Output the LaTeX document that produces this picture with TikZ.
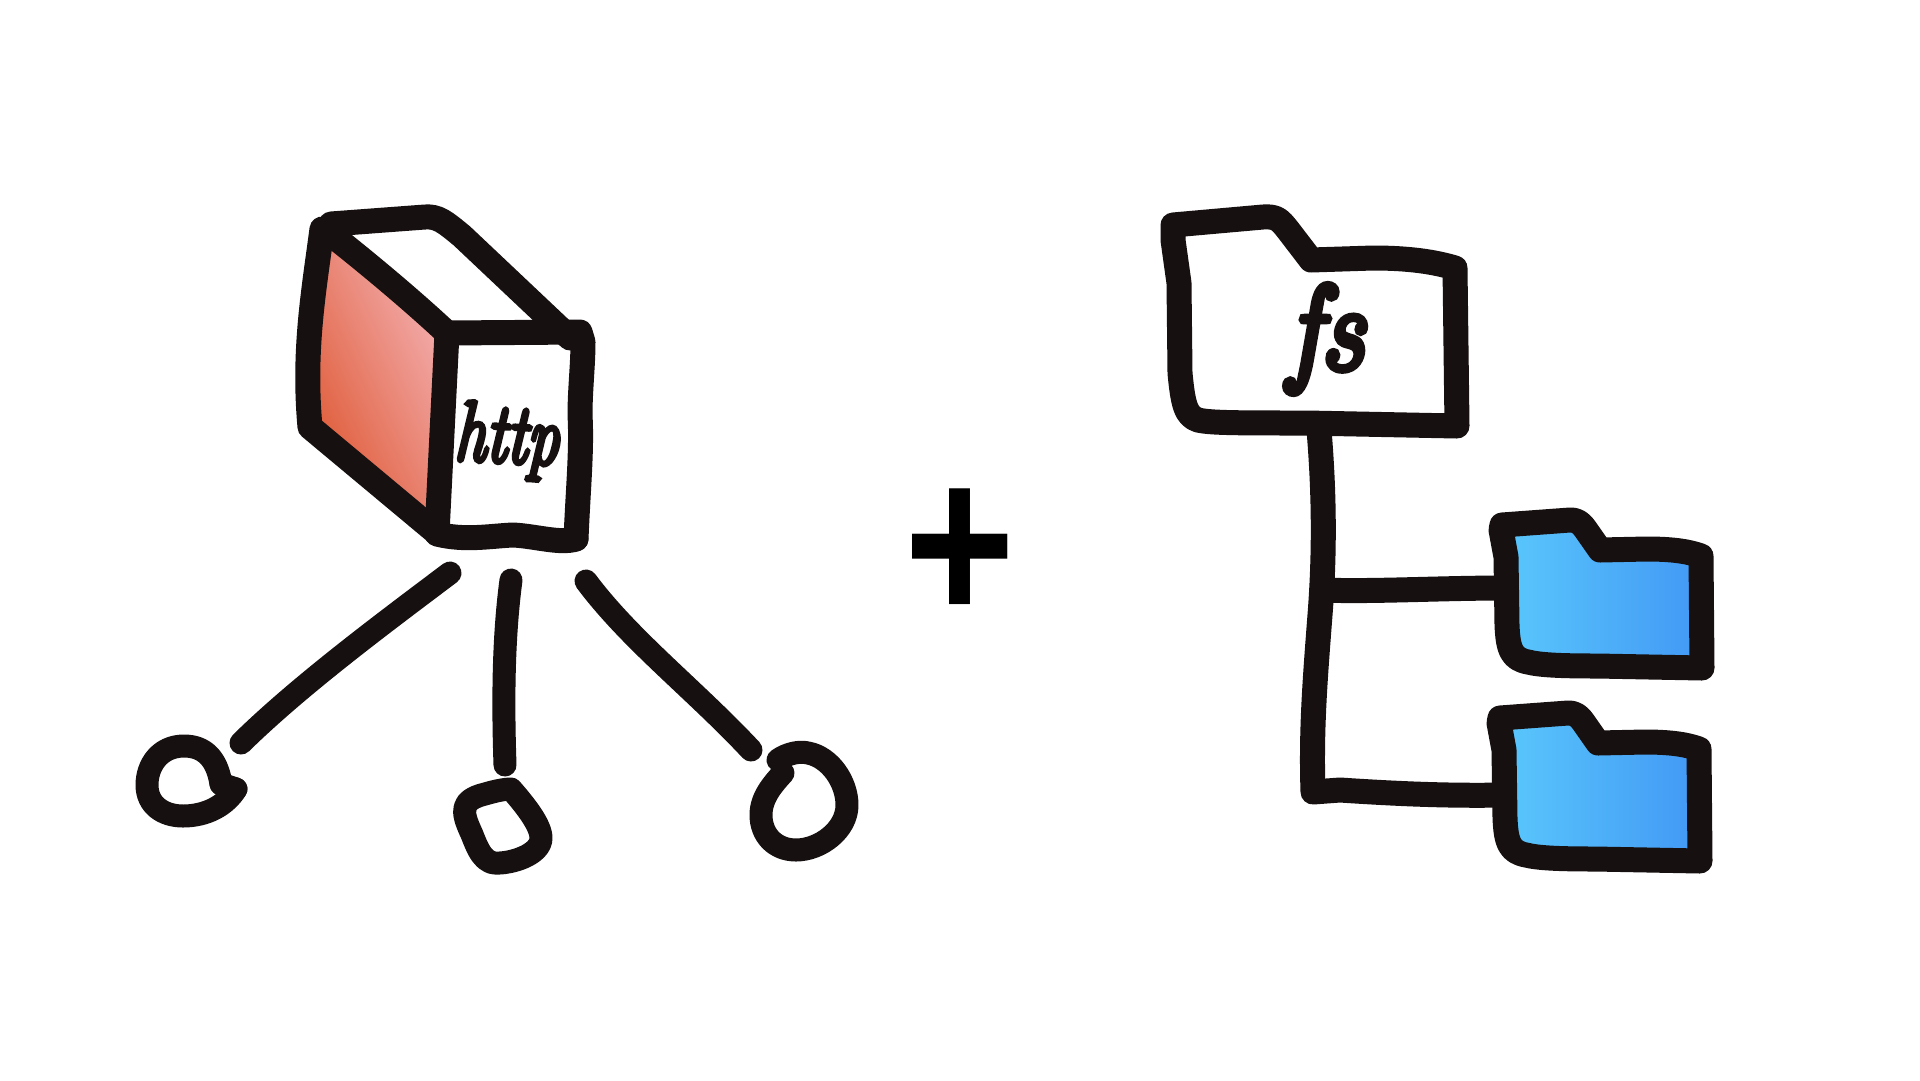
\documentclass[tikz,border=0pt]{standalone}
\usepackage{fontspec}
\newfontfamily\plusfont{Liberation Sans}
\newfontfamily\handfont[FakeBold=6]{Latin Modern Roman}
\definecolor{ink}{HTML}{161010}
\definecolor{redA}{HTML}{E05F3D}
\definecolor{redB}{HTML}{F4B2B5}
\definecolor{blueA}{HTML}{5AC8FC}
\definecolor{blueB}{HTML}{4298F5}
\tikzset{
  inkline/.style={draw=ink,line width=25pt,line cap=round,line join=round},
  legline/.style={draw=ink,line width=23pt,line cap=round,line join=round},
  hand/.style={inner sep=0pt,outer sep=0pt,text=ink},
}
\newcommand{\folderoutline}{(1502,525) -- (1570,520) .. controls (1578,520) and (1581,523) .. (1586,530) -- (1600,550)
  -- (1647,549) .. controls (1675,549) and (1690,552) .. (1701,556) -- (1702,668) -- (1597,666)
  .. controls (1560,666) and (1540,665) .. (1528,662) .. controls (1512,659) and (1508,650) .. (1507,625)
  -- (1506,557) -- (1501,530) -- cycle}
\begin{document}
\begin{tikzpicture}[x=1pt,y=-1pt]
\useasboundingbox (0,0) rectangle (1920,1080);
\fill[white] (0,0) rectangle (1920,1080);
% cube: shaded left face
\begin{scope}
  \clip (322,235) -- (447,335) -- (437,530) -- (308,425) -- cycle;
  \begin{scope}[transform canvas={rotate around={25:(375,390)}}]
    \shade[left color=redA,middle color=redB,right color=redB] (305,100) rectangle (475,680);
  \end{scope}
\end{scope}
% cube strokes
\draw[inkline] (322,229) .. controls (314,290) and (303,350) .. (310,427) -- (437,533);
\draw[inkline] (437,534) .. controls (465,541) and (490,536) .. (513,535) .. controls (535,536) and (560,544) .. (576,539);
\draw[inkline] (576,539) .. controls (578,490) and (582,450) .. (580,415) .. controls (580,390) and (583,365) .. (583,342) -- (580,332) -- (447,333);
\draw[inkline] (447,333) -- (437,533);
\draw[inkline] (331,224) -- (425,217) .. controls (438,216) and (445,222) .. (462,236) -- (570,338);
\draw[inkline] (328,232) .. controls (370,265) and (415,303) .. (447,333);
\node[hand,rotate=-3,xscale=0.74] (http) at (507,441) {\fontsize{85}{85}\selectfont\handfont\itshape http};
% legs
\draw[legline] (450,573) .. controls (385,622) and (300,685) .. (241,743);
\draw[legline] (511,580) .. controls (503,640) and (503,705) .. (505,765);
\draw[legline] (586,581) .. controls (630,640) and (695,690) .. (751,750);
% loops
\draw[legline] (221,784) .. controls (217,758) and (204,746) .. (184,746) .. controls (160,746) and (147,765) .. (147,785)
  .. controls (147,805) and (163,816) .. (183,816) .. controls (207,816) and (226,805) .. (236,789);
\draw[legline] (221,784) -- (236,789);
\draw[legline] (511,789) .. controls (525,805) and (541,825) .. (541,838) .. controls (541,855) and (510,864) .. (495,863)
  .. controls (480,862) and (475,840) .. (470,830) .. controls (462,812) and (460,800) .. (485,794) .. controls (495,791) and (505,789) .. (511,789);
\draw[legline] (778,760) .. controls (788,753) and (800,751) .. (808,753) .. controls (830,757) and (847,782) .. (847,805)
  .. controls (847,830) and (820,850) .. (796,850) .. controls (775,850) and (761,835) .. (761,815) .. controls (761,798) and (772,785) .. (783,773);
% tree connectors
\draw[inkline] (1319,430) .. controls (1324,490) and (1325,550) .. (1320,615) .. controls (1315,680) and (1311,730) .. (1313,792)
  -- (1340,790) .. controls (1400,794) and (1450,796) .. (1505,795);
\draw[inkline] (1322,590) .. controls (1370,592) and (1440,588) .. (1505,588);
% root folder
\draw[inkline,fill=white] (1173,225) -- (1263,217) .. controls (1277,216) and (1280,220) .. (1288,230) -- (1311,260)
  -- (1373,258) .. controls (1410,258) and (1435,262) .. (1455,268) -- (1457,426) -- (1307,423)
  .. controls (1240,423) and (1210,423) .. (1198,420) .. controls (1186,416) and (1183,405) .. (1180,373)
  -- (1179,283) -- (1173,240) -- cycle;
\node[hand,xscale=0.9] (fs) at (1326,339) {\fontsize{120}{120}\selectfont\handfont\itshape fs};
% blue folders
\shadedraw[inkline,left color=blueA,right color=blueB] \folderoutline;
\begin{scope}[shift={(-2,193)}]
  \shadedraw[inkline,left color=blueA,right color=blueB] \folderoutline;
\end{scope}
% plus
\node[inner sep=0pt,outer sep=0pt,text=black,xscale=1,yscale=1.2] (plus) at (960,556) {\fontsize{190}{190}\selectfont\plusfont\bfseries +};
\end{tikzpicture}
\end{document}
